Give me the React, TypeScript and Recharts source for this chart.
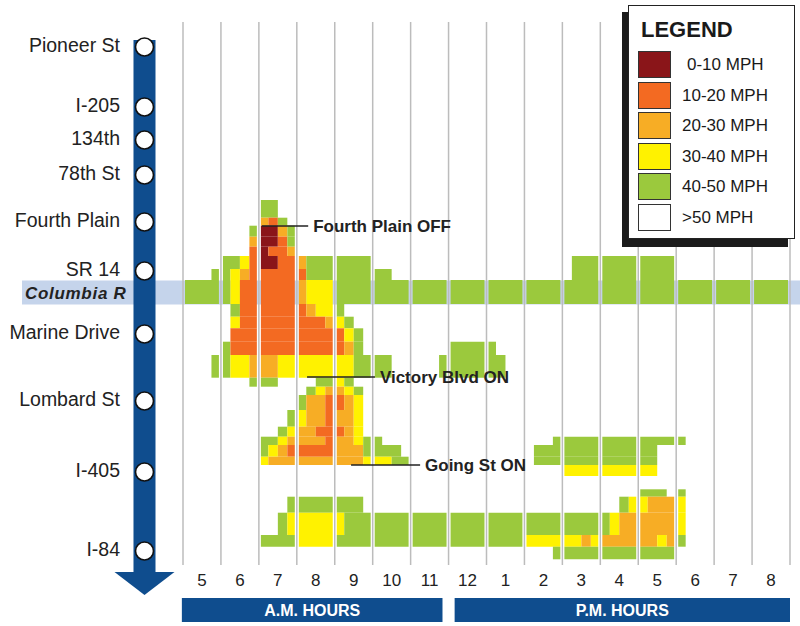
import React from 'react'
import {
  ComposedChart, XAxis, YAxis, ReferenceArea, ReferenceLine, Scatter, Legend,
} from 'recharts'

// time axis: hours from 5 AM to 9 PM, 4 slots (15 min) per hour
const START_HOUR = 5
const END_HOUR = 21
const HOUR_LABELS = ['5', '6', '7', '8', '9', '10', '11', '12', '1', '2', '3', '4', '5', '6', '7', '8']

const SPEED_BINS = [
  { code: 'R', label: '0-10 MPH', color: '#8a1519' },
  { code: 'O', label: '10-20 MPH', color: '#f36a22' },
  { code: 'A', label: '20-30 MPH', color: '#f7ad25' },
  { code: 'Y', label: '30-40 MPH', color: '#fff200' },
  { code: 'G', label: '40-50 MPH', color: '#9bc93d' },
  { code: '.', label: '>50 MPH', color: '#ffffff' },
]

// corridor distance (top = north)
const STATIONS = ['Pioneer St', 'I-205', '134th', '78th St', 'Fourth Plain', 'SR 14', 'Marine Drive', 'Lombard St', 'I-405', 'I-84']
const STATION_POS = [25, 85, 118, 153, 200, 249, 312, 379, 450, 529]
const RIVER = [258.5, 282.5]

// detector segments: [top, bottom] in corridor distance
const ROW_TOP = [178, 195.7, 203.7, 214.7, 224.7, 234, 247, 258, 282, 294.7, 306.3, 319.7, 333, 355.7, 364.7, 373, 388, 404.7, 414.7, 423, 434.7, 443, 467.3, 474.7, 490.7, 513, 524.7]
const ROW_BOTTOM = [195.7, 203.7, 214.7, 224.7, 234, 247, 258, 282, 294.7, 306.3, 319.7, 333, 355.7, 364.7, 373, 388, 404.7, 414.7, 423, 434.7, 443, 454, 474.7, 490.7, 513, 524.7, 537.3]

// speed bin per 15-min slot, one group of 4 per hour (5 AM .. 8 PM)
const ROW_SPEEDS = [
  '.... .... GG..',
  '.... .... AOG.',
  '.... ...G RRAG',
  '.... ...A RROG',
  '.... ...O ROOA',
  '.... GGYO RROO AGGG GGGG .... .... .... .... .... .GGG GGGG GGGG',
  '...G GYAO OOOO OGGG GGGG GG.. .... .... .... .... .GGG GGGG GGGG',
  'GGGG GYOO OOOO AYYY GGGG GGGG GGGG GGGG GGGG GGGG GGGG GGGG GGGG GGGG GGGG GGGG',
  '.... .GOO OOOO OAYY G...',
  '.... .YOO OOOO OOOA YG..',
  '.... .OOO OOOO OOOO OYG.',
  '.... GOOO OOOO OOOO OAG. .... .... GGGG G...',
  '...G GYYA AAYY YYYY YYGG GG.. ...G GGGG GG..',
  '.... ...G GG.. ..GG YG..',
  '.... .... .... .GYA AYG.',
  '.... .... .... GAAO OAY.',
  '.... .... ...G YAAO AAY.',
  '.... .... ..GY AAOO OAY.',
  '.... .... GGYA AAAO AAYG G... .... .... .... ...G GGGG GGGG GGGG G...',
  '.... .... GYAO OOOO AAAG GGG. .... .... .... .GGG GGGG GGGG GG..',
  '.... .... YAAA AAAA AAAY YYGG .... .... .... .GGG GGGG GGGG GG..',
  '.... .... .... .... .... .... .... .... .... .... YYYY YYYY YY..',
  '.... .... .... .... .... .... .... .... .... .... .... .... GGG. G...',
  '.... .... ...G GGGG GGG. .... .... .... .... .... .... ..GY YAAA Y...',
  '.... .... ..GY YYYY YGGG GGGG GGGG GGGG GGGG GGGG GGGG GYAA AAAA Y...',
  '.... .... GGGG YYYY GGGG GGGG GGGG GGGG GGGG YYYY YYAY AAAA AAYA G...',
  '.... .... .... .... .... .... .... .... .... ...G GGGG GGGG GGGG',
]

const ANNOTATION_TEXT = ['Fourth Plain OFF', 'Victory Blvd ON', 'Going St ON']
const ANNOTATION_Y = [204, 355, 443]
const ANNOTATION_FROM = [7.08, 8.27, 9.43]
const ANNOTATION_TO = [8.3, 10.06, 11.25]

const GAP = 0.053 // white gap next to each hour line
const BLUE = '#0f4d8e'
const FONT = '"Liberation Sans", Arial, Helvetica, sans-serif'

const colorOf = (code: string) => SPEED_BINS.find(b => b.code === code)?.color ?? '#fff'

type Cell = { row: number; code: string; x1: number; x2: number }

function buildCells(): Cell[] {
  const out: Cell[] = []
  ROW_SPEEDS.forEach((str, row) => {
    const s = str.replace(/ /g, '').padEnd(64, '.')
    for (let h = 0; h < 16; h++) {
      let i = 0
      while (i < 4) {
        const c = s[h * 4 + i]
        if (c === '.') { i++; continue }
        let j = i
        while (j + 1 < 4 && s[h * 4 + j + 1] === c) j++
        out.push({
          row,
          code: c,
          x1: START_HOUR + h + i / 4 + (i === 0 ? GAP : 0),
          x2: START_HOUR + h + (j + 1) / 4 - (j === 3 ? GAP : 0),
        })
        i = j + 1
      }
    }
  })
  return out
}

const cells = buildCells()
const hourLines = Array.from({ length: END_HOUR - START_HOUR + 1 }, (_, i) => START_HOUR + i)
const hourTicks = HOUR_LABELS.map((_, i) => START_HOUR + i + 0.5)
const annotationPoints = ANNOTATION_TEXT.map((text, i) => ({ text, x: ANNOTATION_TO[i] + 0.13, y: ANNOTATION_Y[i] }))

function StationTick(props: any) {
  const { x, y, index } = props
  return (
    <g>
      <text x={x - 63} y={y - 2} textAnchor="end" dominantBaseline="central" fontSize={19.5} fill="#222" fontFamily={FONT}>
        {STATIONS[index]}
      </text>
      <circle cx={x - 38.5} cy={y} r={9} fill="#fff" stroke="#111" strokeWidth={1.6} />
    </g>
  )
}

function ArrowShape(props: any) {
  const { x, y, width, height } = props
  const cx = x + width / 2
  const base = y + height
  return (
    <g>
      <rect x={x} y={y} width={width} height={height} fill={BLUE} />
      <polygon points={`${cx - 30},${base} ${cx + 30},${base} ${cx},${base + 23}`} fill={BLUE} />
    </g>
  )
}

function AnnotationText(props: any) {
  const { cx, cy, payload } = props
  return (
    <text x={cx} y={cy} dominantBaseline="central" fontSize={17} fontWeight="bold" fill="#222" fontFamily={FONT}>
      {payload.text}
    </text>
  )
}

function LegendBox() {
  return (
    <div style={{ position: 'relative', width: 174, height: 242, fontFamily: FONT }}>
      <div style={{ position: 'absolute', left: 0, top: 7, width: 166, height: 235, background: '#1b1b1b' }} />
      <div style={{ position: 'absolute', left: 6, top: 0, width: 167, height: 234, background: '#fff', border: '1.5px solid #222', boxSizing: 'border-box' }}>
        <div style={{ position: 'absolute', left: 12, top: 13, fontSize: 22, fontWeight: 'bold', lineHeight: '22px', color: '#1a1a1a' }}>LEGEND</div>
        {SPEED_BINS.map((b, i) => (
          <div key={b.label}>
            <div style={{ position: 'absolute', left: 9, top: 45 + i * 30.6, width: 33, height: 27, background: b.color, border: '1px solid #333', boxSizing: 'border-box' }} />
            <div style={{ position: 'absolute', left: i === 0 ? 58 : 53, top: 45 + i * 30.6, height: 27, lineHeight: '27px', fontSize: 17, color: '#1a1a1a' }}>{b.label}</div>
          </div>
        ))}
      </div>
    </div>
  )
}

export default function App() {
  return (
    <div style={{ position: 'absolute', left: 0, top: 0, width: 800, height: 626, background: '#fff' }}>
      <ComposedChart width={800} height={626} data={annotationPoints} margin={{ top: 22, right: 10, bottom: 31, left: 0 }} style={{ fontFamily: FONT }}>
        <XAxis
          type="number" dataKey="x" domain={[START_HOUR, END_HOUR]} ticks={hourTicks} interval={0}
          tickFormatter={(v: number) => HOUR_LABELS[Math.floor(v - START_HOUR)]}
          axisLine={false} tickLine={false} tickSize={0} tickMargin={9} height={30}
          tick={{ fontSize: 17, fill: '#222' }}
        />
        <YAxis
          type="number" dataKey="y" domain={[0, 543]} reversed ticks={STATION_POS} interval={0}
          width={183} axisLine={false} tickLine={false} tickSize={0} tickMargin={0}
          tick={(p: any) => <StationTick {...p} />}
        />
        <ReferenceArea
          x1={0.756} x2={21.264} y1={RIVER[0]} y2={RIVER[1]} ifOverflow="visible"
          fill="#c5d4eb" fillOpacity={1} stroke="none"
          label={{ value: 'Columbia R', position: 'insideLeft', offset: 3, fill: '#222', fontSize: 17, fontWeight: 'bold', fontStyle: 'italic', letterSpacing: 0.7 }}
        />
        <ReferenceArea x1={3.695} x2={4.275} y1={18} y2={550} ifOverflow="visible" shape={ArrowShape} />
        {cells.map((c, k) => (
          <ReferenceArea
            key={`c${k}`}
            x1={c.x1} x2={c.x2} y1={ROW_TOP[c.row]} y2={ROW_BOTTOM[c.row]}
            fill={colorOf(c.code)} fillOpacity={1} stroke="none"
          />
        ))}
        {hourLines.map(h => (
          <ReferenceLine key={`h${h}`} x={h} stroke="#bcbcbc" strokeWidth={1.5} />
        ))}
        {ANNOTATION_TEXT.map((t, i) => (
          <ReferenceLine key={t} segment={[{ x: ANNOTATION_FROM[i], y: ANNOTATION_Y[i] }, { x: ANNOTATION_TO[i], y: ANNOTATION_Y[i] }]} stroke="#222" strokeWidth={1.5} />
        ))}
        <ReferenceArea
          x1={4.97} x2={11.84} y1={576} y2={600} ifOverflow="visible" fill={BLUE} fillOpacity={1} stroke="none"
          label={{ value: 'A.M. HOURS', position: 'center', fill: '#fff', fontSize: 16, fontWeight: 'bold' }}
        />
        <ReferenceArea
          x1={12.16} x2={21} y1={576} y2={600} ifOverflow="visible" fill={BLUE} fillOpacity={1} stroke="none"
          label={{ value: 'P.M. HOURS', position: 'center', fill: '#fff', fontSize: 16, fontWeight: 'bold' }}
        />
        <Scatter dataKey="y" isAnimationActive={false} shape={AnnotationText} />
        <Legend
          layout="horizontal" verticalAlign="middle" align="center"
          wrapperStyle={{ left: 622, top: 5, width: 174, height: 242 }}
          content={() => <LegendBox />}
        />
      </ComposedChart>
    </div>
  )
}
